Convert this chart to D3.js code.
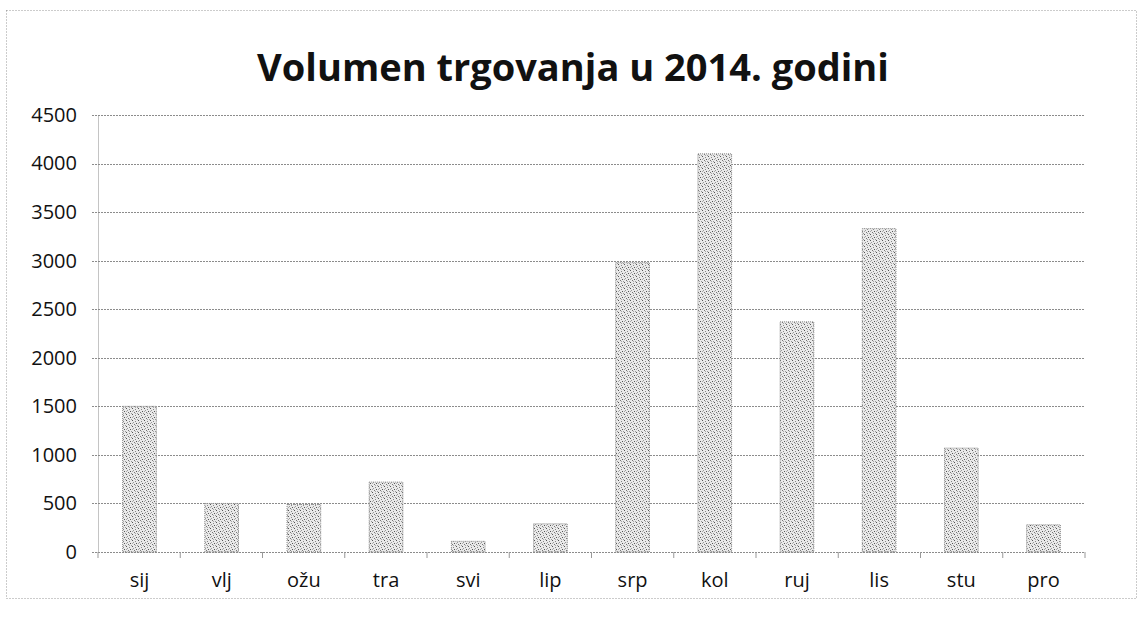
<!DOCTYPE html>
<html>
	<head>
		<title>Volumen trgovanja</title>
		<style type="text/css">
			body {
				margin: 0px;
				background-color: #fff;
			}
			text {
				font-family: "Open Sans", Lato, sans-serif;
				fill: #111;
			}
		</style>
		<script src="https://d3js.org/d3.v7.min.js" charset="utf-8"></script>
	</head>
	<body>
		<script type="text/javascript">
			var months = ["sij", "vlj", "ožu", "tra", "svi", "lip", "srp", "kol", "ruj", "lis", "stu", "pro"];
			var volume = [1500, 500, 490, 720, 110, 290, 2980, 4100, 2370, 3330, 1070, 280];
			var yTicks = [0, 500, 1000, 1500, 2000, 2500, 3000, 3500, 4000, 4500];
			var title = "Volumen trgovanja u 2014. godini";

			var width = 1143, height = 617;
			// "top" is taken by window.top, so use plot* names
			var plotLeft = 98, plotRight = 1085, plotTop = 115, plotBottom = 552;

			var svg = d3.select("body").append("svg")
				.attr("width", width)
				.attr("height", height);

			// stippled fill like the scanned print
			var pat = svg.append("defs").append("pattern")
				.attr("id", "stipple")
				.attr("width", 6)
				.attr("height", 6)
				.attr("patternUnits", "userSpaceOnUse");
			pat.append("rect").attr("width", 6).attr("height", 6).style("fill", "#eaeaea");
			var dots = [[0, 0, "#555"], [3, 1, "#888"], [1, 2, "#999"], [4, 3, "#555"], [2, 4, "#777"], [5, 5, "#999"], [0, 3, "#aaa"], [3, 5, "#aaa"]];
			pat.selectAll("rect.dot")
				.data(dots)
				.enter()
					.append("rect")
					.attr("class", "dot")
					.attr("x", function(d) { return d[0]; })
					.attr("y", function(d) { return d[1]; })
					.attr("width", 1)
					.attr("height", 1)
					.style("fill", function(d) { return d[2]; });

			// chart frame
			svg.append("rect")
				.attr("x", 6.5)
				.attr("y", 10.5)
				.attr("width", 1130)
				.attr("height", 588)
				.style("fill", "none")
				.style("stroke", "#999")
				.style("stroke-dasharray", "1,2");

			var x = d3.scaleBand()
				.domain(months)
				.range([plotLeft, plotRight])
				.paddingInner(0.59)
				.paddingOuter(0.3);

			var y = d3.scaleLinear()
				.domain([0, 4500])
				.range([plotBottom, plotTop]);

			svg.append("text")
				.attr("x", 573)
				.attr("y", 81)
				.attr("text-anchor", "middle")
				.style("font-size", "38px")
				.style("font-weight", "bold")
				.text(title);

			// gridlines
			svg.selectAll(".grid")
				.data(yTicks)
				.enter()
					.append("line")
					.attr("class", "grid")
					.attr("x1", plotLeft - 6)
					.attr("x2", plotRight)
					.attr("y1", function(d) { return Math.round(y(d)) + 0.5; })
					.attr("y2", function(d) { return Math.round(y(d)) + 0.5; })
					.style("stroke", "#8c8c8c")
					.style("stroke-dasharray", "2,1");

			var yAxis = svg.append("g")
				.attr("transform", "translate(" + plotLeft + ",0)")
				.call(d3.axisLeft(y).tickValues(yTicks).tickFormat(d3.format("d")).tickSize(0).tickPadding(21));
			yAxis.select(".domain").style("stroke", "#888").style("stroke-dasharray", "1,1");
			yAxis.selectAll("text").style("font-size", "20px");

			svg.selectAll(".bar")
				.data(volume)
				.enter()
					.append("rect")
					.attr("class", "bar")
					.attr("x", function(d, i) { return x(months[i]); })
					.attr("y", function(d) { return y(d); })
					.attr("width", x.bandwidth())
					.attr("height", function(d) { return y(0) - y(d); })
					.style("fill", "url(#stipple)")
					.style("stroke", "#888")
					.style("stroke-dasharray", "1,1");

			var xAxis = svg.append("g")
				.attr("transform", "translate(0," + plotBottom + ")")
				.call(d3.axisBottom(x).tickSize(0).tickPadding(21));
			xAxis.select(".domain").remove();
			xAxis.selectAll("text").style("font-size", "20px");

			// tick marks between categories
			svg.selectAll(".xtick")
				.data(d3.range(months.length + 1))
				.enter()
					.append("line")
					.attr("class", "xtick")
					.attr("x1", function(i) { return plotLeft + i * (plotRight - plotLeft) / months.length; })
					.attr("x2", function(i) { return plotLeft + i * (plotRight - plotLeft) / months.length; })
					.attr("y1", plotBottom)
					.attr("y2", plotBottom + 6)
					.style("stroke", "#999");
		</script>
	</body>
</html>
